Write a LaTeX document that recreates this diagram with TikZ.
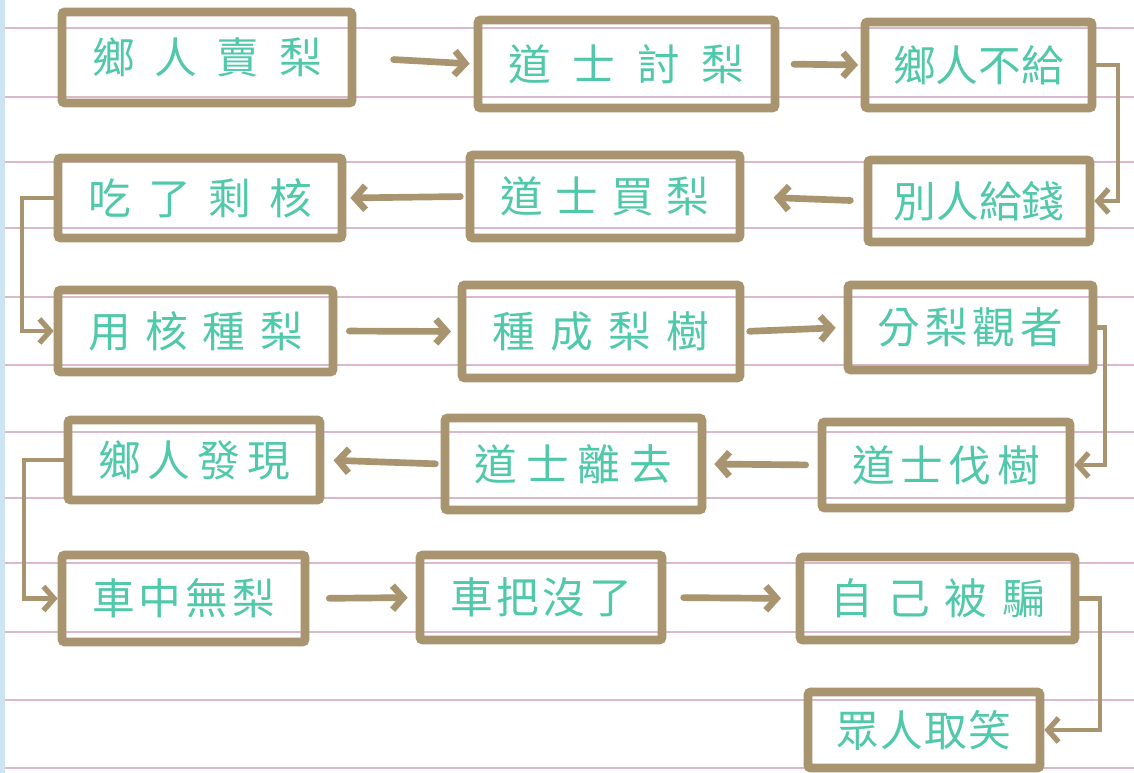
\documentclass[tikz,border=0pt]{standalone}
\usepackage{fontspec}
\newfontfamily\cjk{Noto Sans CJK TC}
\usetikzlibrary{arrows.meta}
\definecolor{boxc}{RGB}{168,148,110}
\definecolor{txtc}{RGB}{80,200,170}
\definecolor{rulec}{RGB}{218,185,205}
\definecolor{edgec}{RGB}{205,228,242}
\newcommand\fc[5]{\makebox[#1pt]{#2\hfill#3\hfill#4\hfill#5}}
\begin{document}
\begin{tikzpicture}[x=0.75pt,y=-0.75pt,
  box/.style={draw=boxc,line width=6.5pt,rounded corners=2pt,inner sep=0pt,text=txtc,font=\cjk\fontsize{32}{32}\selectfont},
  flow/.style={draw=boxc,line width=5pt,line cap=round,-{Straight Barb[length=8pt,width=18pt]}},
  elbow/.style={draw=boxc,line width=3.2pt,line cap=round,-{Straight Barb[length=8pt,width=18pt,line width=4pt]}}]
\useasboundingbox (0,0) rectangle (1134,773);
\fill[white] (0,0) rectangle (1134,773);
\fill[edgec] (0,0) rectangle (5,773);
\foreach \y in {28,97,162,228,297,365,432,498,563,632,700,768}
  \draw[rulec,line width=1.2pt] (5,\y) -- (1134,\y);
% row 1
\node[box,minimum width=217.5pt,minimum height=68.25pt] (b1) at (207,57.5) {\fc{172}{鄉}{人}{賣}{梨}};
\node[box,minimum width=222.75pt,minimum height=66pt] (b2) at (626.5,64) {\fc{177}{道}{士}{討}{梨}};
\node[box,minimum width=170.25pt,minimum height=64.5pt] (b3) at (978.5,65) {\fc{128}{鄉}{人}{不}{給}};
% row 2
\node[box,minimum width=213pt,minimum height=60pt] (b4) at (200,198) {\fc{168}{吃}{了}{剩}{核}};
\node[box,minimum width=202.5pt,minimum height=62.25pt] (b5) at (605,196.5) {\fc{157}{道}{士}{買}{梨}};
\node[box,minimum width=166.5pt,minimum height=61.5pt] (b6) at (979,201) {\fc{128}{別}{人}{給}{錢}};
% row 3
\node[box,minimum width=206.25pt,minimum height=61.5pt] (b7) at (195.5,331) {\fc{161}{用}{核}{種}{梨}};
\node[box,minimum width=208.5pt,minimum height=69.75pt] (b8) at (601,331.5) {\fc{163}{種}{成}{梨}{樹}};
\node[box,minimum width=183.75pt,minimum height=63.75pt] (b9) at (970.5,327.5) {\fc{139}{分}{梨}{觀}{者}};
% row 4
\node[box,minimum width=189pt,minimum height=60pt] (b10) at (194,460) {\fc{144}{鄉}{人}{發}{現}};
\node[box,minimum width=192.75pt,minimum height=69pt] (b11) at (573.5,464) {\fc{148}{道}{士}{離}{去}};
\node[box,minimum width=186pt,minimum height=64.5pt] (b12) at (946,465) {\fc{141}{道}{士}{伐}{樹}};
% row 5
\node[box,minimum width=182.25pt,minimum height=65.25pt] (b13) at (183.5,598.5) {\fc{137}{車}{中}{無}{梨}};
\node[box,minimum width=181.5pt,minimum height=63.75pt] (b14) at (541,597.5) {\fc{136}{車}{把}{沒}{了}};
\node[box,minimum width=206.25pt,minimum height=62.25pt] (b15) at (937.5,598.5) {\fc{161}{自}{己}{被}{騙}};
% row 6
\node[box,minimum width=174pt,minimum height=57pt] (b16) at (924,730) {\fc{131}{眾}{人}{取}{笑}};
% turning points
\coordinate (r1) at (1118,0);
\coordinate (r2) at (1105,0);
\coordinate (r3) at (1100,0);
\coordinate (l1) at (22,0);
\coordinate (l2) at (24,0);
% horizontal arrows
\draw[flow,shorten <=28pt,shorten >=3pt] (b1.east) -- (b2.west);
\draw[flow,shorten <=11pt,shorten >=2pt] (b2.east) -- (b3.west);
\draw[flow,shorten <=10pt,shorten >=22pt] (b6.west) -- (b5.east);
\draw[flow,shorten <=4pt,shorten >=3pt] (b5.west) -- (b4.east);
\draw[flow,shorten <=9pt,shorten >=5pt] (b7.east) -- (b8.west);
\draw[flow,shorten <=4pt,shorten >=6pt] (b8.east) -- (b9.west);
\draw[flow,shorten <=9pt,shorten >=6pt] (b12.west) -- (b11.east);
\draw[flow,shorten <=4pt,shorten >=7pt] (b11.west) -- (b10.east);
\draw[flow,shorten <=15pt,shorten >=6pt] (b13.east) -- (b14.west);
\draw[flow,shorten <=13pt,shorten >=11pt] (b14.east) -- (b15.west);
% elbow connectors
\draw[elbow] (b3.east) -- (b3.east -| r1) |- (b6.east);
\draw[elbow] (b4.west) -- (b4.west -| l1) |- (b7.west);
\draw[elbow] (b9.east) -- (b9.east -| r2) |- (b12.east);
\draw[elbow] (b10.west) -- (b10.west -| l2) |- (b13.west);
\draw[elbow] (b15.east) -- (b15.east -| r3) |- (b16.east);
\end{tikzpicture}
\end{document}
